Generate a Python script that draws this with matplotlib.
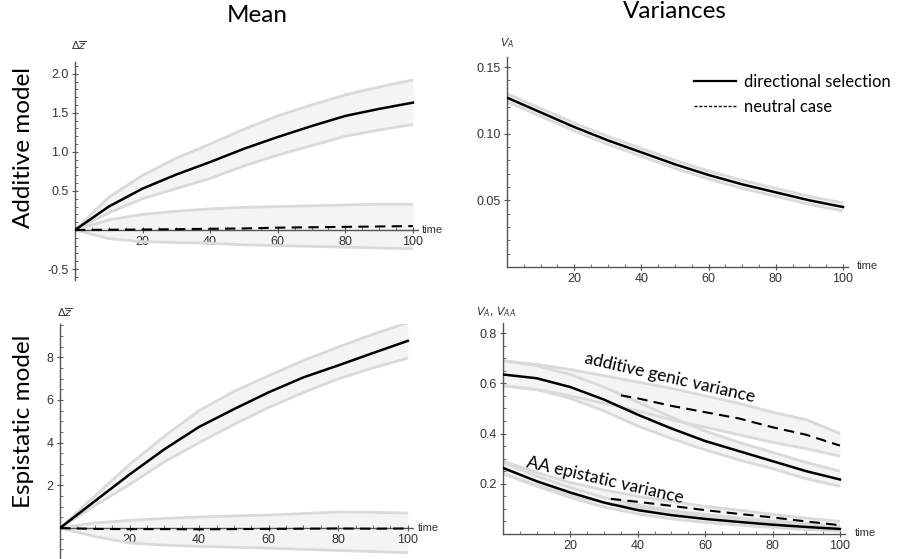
import numpy as np
import matplotlib
matplotlib.use("Agg")
import matplotlib.pyplot as plt
from matplotlib.lines import Line2D
from matplotlib.ticker import MultipleLocator, FixedLocator

# time grid
t = [0, 10, 20, 30, 40, 50, 60, 70, 80, 90, 100]

# additive model, mean
add_sel = [0, 0.30, 0.53, 0.71, 0.87, 1.04, 1.19, 1.33, 1.46, 1.55, 1.63]
add_sel_hi = [0, 0.42, 0.70, 0.92, 1.10, 1.29, 1.46, 1.60, 1.73, 1.83, 1.92]
add_sel_lo = [0, 0.22, 0.40, 0.53, 0.66, 0.82, 0.96, 1.08, 1.20, 1.28, 1.35]
add_neu = [0, 0.003, 0.006, 0.01, 0.015, 0.02, 0.03, 0.035, 0.04, 0.045, 0.05]
add_neu_hi = [0, 0.13, 0.20, 0.24, 0.27, 0.29, 0.30, 0.31, 0.32, 0.33, 0.33]
add_neu_lo = [0, -0.11, -0.15, -0.16, -0.17, -0.19, -0.20, -0.21, -0.22, -0.23, -0.24]

# additive model, variance
va_sel = [0.127, 0.116, 0.105, 0.095, 0.086, 0.077, 0.069, 0.062, 0.056, 0.050, 0.045]
va_sel_hi = [0.130, 0.119, 0.108, 0.098, 0.089, 0.080, 0.072, 0.065, 0.059, 0.053, 0.048]
va_sel_lo = [0.124, 0.113, 0.102, 0.092, 0.083, 0.074, 0.066, 0.059, 0.053, 0.047, 0.042]

# epistatic model, mean
epi_sel = [0, 1.26, 2.51, 3.69, 4.74, 5.57, 6.36, 7.06, 7.62, 8.2, 8.77]
epi_sel_hi = [0, 1.5, 2.98, 4.3, 5.5, 6.4, 7.14, 7.85, 8.48, 9.08, 9.62]
epi_sel_lo = [0, 1.05, 2.04, 3.1, 4.0, 4.85, 5.65, 6.35, 6.99, 7.5, 7.96]
epi_neu = [0, -0.04, -0.05, -0.05, -0.06, -0.05, -0.04, -0.03, -0.02, -0.03, -0.02]
epi_neu_hi = [0, 0.24, 0.36, 0.45, 0.52, 0.57, 0.61, 0.68, 0.75, 0.74, 0.70]
epi_neu_lo = [0, -0.39, -0.70, -0.80, -0.86, -0.90, -0.94, -1.0, -1.05, -1.1, -1.15]

# epistatic model, variances
ag_sel = [0.635, 0.62, 0.585, 0.535, 0.475, 0.42, 0.37, 0.33, 0.29, 0.25, 0.217]
ag_sel_hi = [0.69, 0.67, 0.635, 0.585, 0.525, 0.465, 0.41, 0.365, 0.325, 0.285, 0.25]
ag_sel_lo = [0.59, 0.575, 0.54, 0.49, 0.43, 0.38, 0.335, 0.295, 0.26, 0.22, 0.19]
ag_neu_hi = [0.69, 0.675, 0.655, 0.63, 0.605, 0.58, 0.55, 0.52, 0.485, 0.455, 0.40]
ag_neu_lo = [0.59, 0.575, 0.55, 0.52, 0.49, 0.455, 0.425, 0.395, 0.365, 0.34, 0.31]
t_ag_neu = [35, 40, 50, 60, 70, 80, 90, 100]
ag_neu = [0.552, 0.54, 0.51, 0.485, 0.46, 0.425, 0.395, 0.352]

aa_sel = [0.263, 0.21, 0.165, 0.125, 0.095, 0.075, 0.06, 0.048, 0.037, 0.028, 0.02]
aa_sel_hi = [0.285, 0.23, 0.185, 0.145, 0.115, 0.093, 0.077, 0.064, 0.052, 0.042, 0.033]
aa_sel_lo = [0.24, 0.19, 0.145, 0.107, 0.08, 0.06, 0.046, 0.035, 0.026, 0.018, 0.012]
aa_neu_hi = [0.29, 0.245, 0.205, 0.175, 0.15, 0.13, 0.11, 0.095, 0.078, 0.063, 0.05]
aa_neu_lo = [0.24, 0.195, 0.155, 0.125, 0.105, 0.088, 0.072, 0.058, 0.045, 0.035, 0.025]
t_aa_neu = [32, 40, 50, 60, 70, 80, 90, 100]
aa_neu = [0.14, 0.128, 0.112, 0.095, 0.08, 0.066, 0.05, 0.035]

W, H = 898, 559
fig = plt.figure(figsize=(W / 100, H / 100), dpi=100)

AXC = '#555555'
TICKFONT = 'Liberation Sans'
LABFONT = 'Lato'


def px_axes(left, top, right, bottom):
    return fig.add_axes([left / W, 1 - bottom / H, (right - left) / W, (bottom - top) / H])


def band(ax, x, lo, hi):
    ax.fill_between(x, lo, hi, color='#f4f4f4', lw=0, zorder=1)
    ax.plot(x, lo, color='#dadada', lw=2, zorder=2, solid_capstyle='butt')
    ax.plot(x, hi, color='#dadada', lw=2, zorder=2, solid_capstyle='butt')


def style(ax, ylim, yticks, yminor, ylabels, xzero=True):
    ax.set_xlim(0, 101.5)
    ax.set_ylim(*ylim)
    for s in ['top', 'right']:
        ax.spines[s].set_visible(False)
    ax.spines['left'].set_color(AXC)
    ax.spines['bottom'].set_color(AXC)
    ax.spines['left'].set_linewidth(1.0)
    ax.spines['bottom'].set_linewidth(1.0)
    if xzero:
        ax.spines['bottom'].set_position(('data', 0))
    ax.set_xticks([20, 40, 60, 80, 100])
    ax.xaxis.set_minor_locator(FixedLocator([v for v in range(5, 101, 5) if v % 20]))
    ax.set_yticks(yticks)
    ax.set_yticklabels(ylabels)
    ax.yaxis.set_minor_locator(MultipleLocator(yminor))
    ax.tick_params(which='major', direction='inout', length=5, width=0.8, color=AXC,
                   labelsize=9, labelcolor='#333333', pad=2)
    ax.tick_params(which='minor', direction='in', length=2.5, width=0.6, color=AXC)
    for lab in ax.get_xticklabels() + ax.get_yticklabels():
        lab.set_fontfamily(TICKFONT)
    ax.patch.set_alpha(0)


# top-left: additive mean
ax1 = px_axes(75, 62, 418, 280)
band(ax1, t, add_neu_lo, add_neu_hi)
band(ax1, t, add_sel_lo, add_sel_hi)
ax1.plot(t, add_sel, color='black', lw=1.8, zorder=4)
ax1.plot(t, add_neu, color='black', lw=1.5, ls=(0, (5, 3)), zorder=4)
style(ax1, (-0.64, 2.15), [-0.5, 0.5, 1.0, 1.5, 2.0], 0.1, ['-0.5', '0.5', '1.0', '1.5', '2.0'])
ax1.text(102.5, 0, 'time', fontsize=8, family=TICKFONT, color='#333333', va='center')
ax1.text(0.01, 1.075, r'$\Delta\overline{z}$', transform=ax1.transAxes, fontsize=8,
         color='#333333', ha='center', va='center')

# top-right: additive variance
ax2 = px_axes(507, 57, 848, 267)
band(ax2, t, va_sel_lo, va_sel_hi)
ax2.plot(t, va_sel, color='black', lw=1.8, zorder=4)
style(ax2, (0, 0.1575), [0.05, 0.10, 0.15], 0.01, ['0.05', '0.10', '0.15'], xzero=False)
ax2.text(104, 0.001, 'time', fontsize=8, family=TICKFONT, color='#333333', va='center')
ax2.text(0.0, 1.068, r'$V_A$', transform=ax2.transAxes, fontsize=8,
         color='#333333', ha='center', va='center')
handles = [Line2D([], [], color='black', lw=1.6),
           Line2D([], [], color='black', lw=1.0, ls=(0, (2.2, 1.3)))]
fig.legend(handles, ['directional selection', 'neutral case'], loc='upper left',
           bbox_to_anchor=(686 / W, 1 - 66 / H), frameon=False, handlelength=2.5,
           handletextpad=0.5, labelspacing=0.5, borderpad=0,
           prop={'family': LABFONT, 'size': 12})

# bottom-left: epistatic mean
ax3 = px_axes(60, 324, 413, 559)
band(ax3, t, epi_neu_lo, epi_neu_hi)
band(ax3, t, epi_sel_lo, epi_sel_hi)
ax3.plot(t, epi_sel, color='black', lw=1.8, zorder=4)
ax3.plot(t, epi_neu, color='black', lw=1.5, ls=(0, (5, 3)), zorder=4)
style(ax3, (-1.45, 9.56), [2, 4, 6, 8], 0.5, ['2', '4', '6', '8'])
ax3.text(103, 0, 'time', fontsize=8, family=TICKFONT, color='#333333', va='center')
ax3.text(0.015, 1.047, r'$\Delta\overline{z}$', transform=ax3.transAxes, fontsize=8,
         color='#333333', ha='center', va='center')

# bottom-right: epistatic variances
ax4 = px_axes(503, 323, 845, 534)
band(ax4, t, ag_neu_lo, ag_neu_hi)
band(ax4, t, ag_sel_lo, ag_sel_hi)
band(ax4, t, aa_neu_lo, aa_neu_hi)
band(ax4, t, aa_sel_lo, aa_sel_hi)
ax4.plot(t, ag_sel, color='black', lw=1.8, zorder=4)
ax4.plot(t_ag_neu, ag_neu, color='black', lw=1.5, ls=(0, (5, 3)), zorder=4)
ax4.plot(t, aa_sel, color='black', lw=1.8, zorder=4)
ax4.plot(t_aa_neu, aa_neu, color='black', lw=1.5, ls=(0, (5, 3)), zorder=4)
style(ax4, (0, 0.84), [0.2, 0.4, 0.6, 0.8], 0.05, ['0.2', '0.4', '0.6', '0.8'], xzero=False)
ax4.text(104.5, 0.004, 'time', fontsize=8, family=TICKFONT, color='#333333', va='center')
ax4.text(-0.02, 1.052, r'$V_A$, $V_{AA}$', transform=ax4.transAxes, fontsize=8,
         color='#333333', ha='center', va='center')
ax4.text(49.6, 0.62, 'additive genic variance', rotation=-13, rotation_mode='anchor',
         ha='center', va='center', fontsize=12.5, family=LABFONT, zorder=5)
ax4.text(30.3, 0.215, 'AA epistatic variance', rotation=-13, rotation_mode='anchor',
         ha='center', va='center', fontsize=12.5, family=LABFONT, zorder=5)

# column and row titles
fig.text(257 / W, 1 - 22 / H, 'Mean', fontsize=17.5, family=LABFONT, ha='center', va='baseline')
fig.text(675 / W, 1 - 18 / H, 'Variances', fontsize=17.5, family=LABFONT, ha='center', va='baseline')
fig.text(24 / W, 1 - 148 / H, 'Additive model', fontsize=17.5, family=LABFONT,
         rotation=90, ha='center', va='center')
fig.text(24 / W, 1 - 421 / H, 'Espistatic model', fontsize=17.5, family=LABFONT,
         rotation=90, ha='center', va='center')

fig.savefig('out.png', dpi=100)
